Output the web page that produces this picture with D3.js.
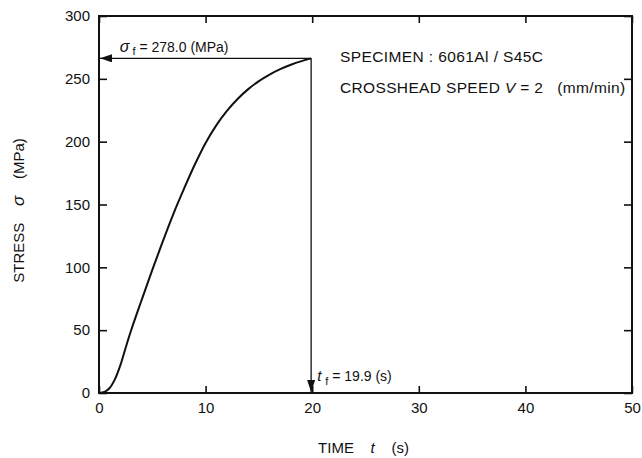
<!DOCTYPE html>
<html>
<head>
<meta charset="utf-8">
<script src="https://cdn.jsdelivr.net/npm/d3@7"></script>
<style>
  body { margin: 0; background: #fff; }
  svg text { font-family: "Liberation Sans", Arial, sans-serif; fill: #111; }
</style>
</head>
<body>
<div id="chart"></div>
<script>
// stress-time curve
const timeValues = [0, 0.5, 1.0, 1.5, 2.0, 2.5, 3, 4, 5, 6, 7, 8, 9, 10, 11, 12, 13, 14, 15, 16, 17, 18, 19, 19.9];
const stressValues = [0, 0.8, 4, 11, 22, 36, 49.5, 74, 98, 121, 143, 163, 182, 199, 213, 224.5, 234, 241.8, 248.2, 253.4, 257.7, 261.2, 264.1, 266.3];
const xTicks = [0, 10, 20, 30, 40, 50];
const yTicks = [0, 50, 100, 150, 200, 250, 300];
const fracture = { t: 19.9, s: 266.3 };

const width = 642;
const height = 458;
const margin = { top: 16, right: 10, bottom: 65, left: 99 };
const w = width - margin.left - margin.right;
const h = height - margin.top - margin.bottom;

const svg = d3.select("#chart").append("svg")
  .attr("width", width)
  .attr("height", height);

svg.append("defs").append("marker")
  .attr("id", "arrow")
  .attr("viewBox", "0 0 12 8")
  .attr("refX", 12)
  .attr("refY", 4)
  .attr("markerWidth", 12)
  .attr("markerHeight", 8)
  .attr("markerUnits", "userSpaceOnUse")
  .attr("orient", "auto")
  .append("path")
  .attr("d", "M0,0 L12,4 L0,8 Z")
  .attr("fill", "#111");

const g = svg.append("g")
  .attr("transform", "translate(" + margin.left + "," + margin.top + ")");

const x = d3.scaleLinear().domain([0, 50]).range([0, w]);
const y = d3.scaleLinear().domain([0, 300]).range([h, 0]);

// frame
g.append("rect")
  .attr("width", w)
  .attr("height", h)
  .attr("fill", "none")
  .attr("stroke", "#111")
  .attr("stroke-width", 2);

const xAxis = g.append("g")
  .attr("transform", "translate(0," + h + ")")
  .call(d3.axisBottom(x).tickValues(xTicks).tickSize(-7).tickPadding(9));
const xTop = g.append("g")
  .call(d3.axisTop(x).tickValues(xTicks).tickSize(-7).tickFormat(""));
const yAxis = g.append("g")
  .call(d3.axisLeft(y).tickValues(yTicks).tickSize(-8).tickPadding(9));
const yRight = g.append("g")
  .attr("transform", "translate(" + w + ",0)")
  .call(d3.axisRight(y).tickValues(yTicks).tickSize(-8).tickFormat(""));

[xAxis, xTop, yAxis, yRight].forEach(function(a) {
  a.select(".domain").remove();
  a.selectAll(".tick line").attr("stroke", "#111").attr("stroke-width", 1.6);
  a.selectAll("text").attr("font-size", "15px").attr("fill", "#111");
});

// curve
const pts = timeValues.map(function(t, i) { return [t, stressValues[i]]; });
const line = d3.line()
  .x(function(d) { return x(d[0]); })
  .y(function(d) { return y(d[1]); })
  .curve(d3.curveCatmullRom.alpha(0.5));

g.append("path")
  .datum(pts)
  .attr("d", line)
  .attr("fill", "none")
  .attr("stroke", "#111")
  .attr("stroke-width", 2);

// fracture arrows
g.append("line")
  .attr("x1", x(fracture.t)).attr("y1", y(fracture.s))
  .attr("x2", x(0) + 1).attr("y2", y(fracture.s))
  .attr("stroke", "#111").attr("stroke-width", 1.3)
  .attr("marker-end", "url(#arrow)");
g.append("line")
  .attr("x1", x(fracture.t)).attr("y1", y(fracture.s))
  .attr("x2", x(fracture.t)).attr("y2", y(0) - 1)
  .attr("stroke", "#111").attr("stroke-width", 1.3)
  .attr("marker-end", "url(#arrow)");

// sigma_f label
const sl = g.append("text")
  .attr("x", x(1.95))
  .attr("y", y(fracture.s) - 6)
  .attr("font-size", "14px");
sl.append("tspan").attr("font-style", "italic").attr("font-size", "16px").text("σ");
sl.append("tspan").attr("font-size", "11px").attr("dy", 3).attr("dx", 3).text("f");
sl.append("tspan").attr("dy", -3).text(" = 278.0 (MPa)");

// t_f label
const tl = g.append("text")
  .attr("x", x(fracture.t) + 6)
  .attr("y", y(0) - 12)
  .attr("font-size", "14px");
tl.append("tspan").attr("font-style", "italic").attr("font-size", "15px").text("t");
tl.append("tspan").attr("font-size", "11px").attr("dy", 4).attr("dx", 4).text("f");
tl.append("tspan").attr("dy", -4).text(" = 19.9 (s)");

// specimen notes
g.append("text")
  .attr("x", 241).attr("y", 46)
  .attr("font-size", "15.5px")
  .attr("letter-spacing", "0.4px")
  .text("SPECIMEN : 6061Al / S45C");
const cs = g.append("text")
  .attr("x", 241).attr("y", 77)
  .attr("font-size", "15.5px")
  .attr("letter-spacing", "0.35px")
  .attr("xml:space", "preserve");
cs.append("tspan").text("CROSSHEAD SPEED ");
cs.append("tspan").attr("font-style", "italic").text("V");
cs.append("tspan").text(" = 2   (mm/min)");

// axis titles
const xt = svg.append("text")
  .attr("x", margin.left + w / 2 - 2)
  .attr("y", 453)
  .attr("text-anchor", "middle")
  .attr("font-size", "15px")
  .attr("xml:space", "preserve");
xt.append("tspan").text("TIME    ");
xt.append("tspan").attr("font-style", "italic").text("t");
xt.append("tspan").text("    (s)");

const yt = svg.append("text")
  .attr("transform", "translate(24," + (margin.top + y(150) + 6) + ") rotate(-90)")
  .attr("text-anchor", "middle")
  .attr("font-size", "15px")
  .attr("xml:space", "preserve");
yt.append("tspan").text("STRESS    ");
yt.append("tspan").attr("font-style", "italic").attr("font-size", "17px").text("σ");
yt.append("tspan").text("    (MPa)");
</script>
</body>
</html>
